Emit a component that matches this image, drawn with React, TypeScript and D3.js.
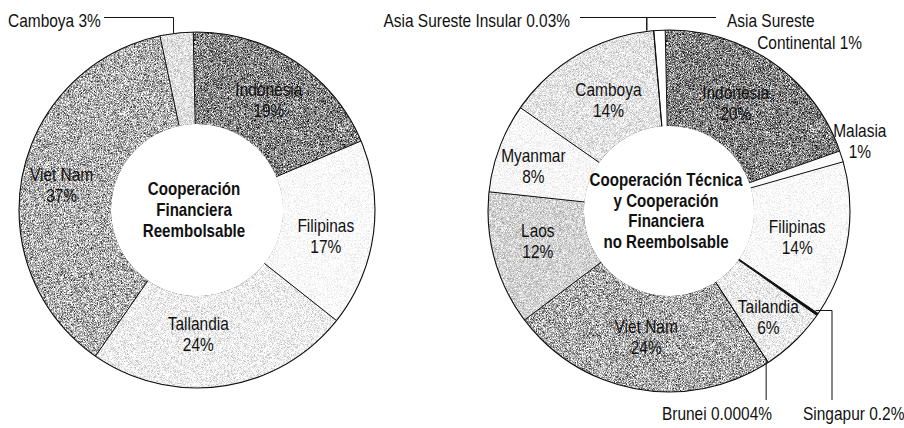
import React from 'react';
import * as d3 from 'd3';

// left donut: Cooperación Financiera Reembolsable
const leftNames = ['Indonesia', 'Filipinas', 'Tallandia', 'Viet Nam', 'Camboya'];
const leftShares = [19, 17, 24, 37, 3];
const leftPct = ['19%', '17%', '24%', '37%', '3%'];

// right donut: Cooperación Técnica y Cooperación Financiera no Reembolsable
const rightNames = [
  'Indonesia', 'Malasia', 'Filipinas', 'Singapur', 'Tailandia', 'Brunei',
  'Viet Nam', 'Laos', 'Myanmar', 'Camboya', 'Asia Sureste Insular', 'Asia Sureste Continental',
];
const rightShares = [20, 1, 14, 0.2, 6, 0.0004, 24, 12, 8, 14, 0.03, 1];
const rightPct = ['20%', '1%', '14%', '0.2%', '6%', '0.0004%', '24%', '12%', '8%', '14%', '0.03%', '1%'];

const leftTitle = ['Cooperación', 'Financiera', 'Reembolsable'];
const rightTitle = ['Cooperación Técnica', 'y Cooperación', 'Financiera', 'no Reembolsable'];

const FONT = "'Liberation Sans', Arial, sans-serif";

// fills + halftone grain per slice
const leftFill = ['#888888', '#fafafa', '#efefef', '#b2b2b2', '#e0e0e0'];
const leftGrain = ['dark', 'faint', 'light', 'dark', 'light'];
const rightFill = ['#848484', '#fafafa', '#fafafa', '#111', '#eeeeee', '#111', '#aeaeae', '#d2d2d2', '#f7f7f7', '#e4e4e4', '#111', '#ffffff'];
const rightGrain = ['dark', 'none', 'faint', 'none', 'light', 'none', 'dark', 'light', 'faint', 'light', 'none', 'none'];

// label nudges from the arc centroid (null = labelled outside the ring)
const leftNudge: ([number, number] | null)[] = [[0, 0], [-2, 7], [-18, -8], [-6, 0], null];
const rightNudge: ([number, number] | null)[] = [
  [-9, 0], [64, -31], [-3, 3], null, [7, 9], null, [0, -6], [-3, -6], [-11, 0], [6, 3], null, null,
];

type Donut = {
  cx: number; cy: number; r0: number; r1: number;
  names: string[]; shares: number[]; pct: string[]; fill: string[]; grain: string[];
  nudge: ([number, number] | null)[]; title: string[];
};

const START = -0.021;

function useDonut(d: Donut) {
  const pie = d3.pie<number>().sort(null).value(v => v)
    .startAngle(START).endAngle(START + 2 * Math.PI);
  const arcs = pie(d.shares);
  const arc = d3.arc<d3.PieArcDatum<number>>().innerRadius(d.r0).outerRadius(d.r1);
  const polar = (a: number, r: number): [number, number] =>
    [d.cx + r * Math.sin(a), d.cy - r * Math.cos(a)];
  return { arcs, arc, polar };
}

// condensed text: Liberation Sans squeezed horizontally
const NText = ({ x, y, anchor = 'start', size = 18, bold = false, sx = 0.86, children }: any) => (
  <g transform={`translate(${x},${y}) scale(${sx},1)`}>
    <text textAnchor={anchor} fontSize={size} fontWeight={bold ? 'bold' : 'normal'} fontFamily={FONT} fill="#111">
      {children}
    </text>
  </g>
);

// mean-preserving grain, to hint at the printed halftone
const Grain = ({ id, amp, seed }: { id: string; amp: number; seed: number }) => (
  <filter id={id} x="0" y="0" width="1" height="1" colorInterpolationFilters="sRGB">
    <feTurbulence type="fractalNoise" baseFrequency="1.7" numOctaves={1} seed={seed} result="n" />
    <feColorMatrix in="n" type="matrix"
      values="1 0 0 0 0  1 0 0 0 0  1 0 0 0 0  0 0 0 0 0.5" result="g" />
    <feComposite in="SourceGraphic" in2="g" operator="arithmetic"
      k1={0} k2={1} k3={amp} k4={-amp * 0.25} result="mix" />
    <feComposite in="mix" in2="SourceGraphic" operator="in" />
  </filter>
);

const Ring = ({ d }: { d: Donut }) => {
  const { arcs, arc, polar } = useDonut(d);
  const pitch = 20.8;
  return (
    <g>
      <g transform={`translate(${d.cx},${d.cy})`}>
        {arcs.map((a, i) => (
          <path key={i} d={arc(a) as string} fill={d.fill[i]}
            filter={d.grain[i] === 'none' ? undefined : `url(#g-${d.grain[i]})`} />
        ))}
        <circle r={d.r1} fill="none" stroke="#111" strokeWidth={1.1} />
      </g>
      {arcs.map((a, i) => {
        const [x0, y0] = polar(a.startAngle, d.r0);
        const [x1, y1] = polar(a.startAngle, d.r1);
        return <line key={'b' + i} x1={x0} y1={y0} x2={x1} y2={y1} stroke="#111" strokeWidth={1} />;
      })}
      {arcs.map((a, i) => {
        const n = d.nudge[i];
        if (!n) return null;
        const [x, y] = polar((a.startAngle + a.endAngle) / 2, (d.r0 + d.r1) / 2);
        const bx = x + n[0];
        const by = y + n[1];
        return (
          <g key={'t' + i}>
            <NText x={bx} y={by - 3} anchor="middle">{d.names[i]}</NText>
            <NText x={bx} y={by + 18} anchor="middle">{d.pct[i]}</NText>
          </g>
        );
      })}
      {d.title.map((t, i) => (
        <NText key={'h' + i} x={d.cx - 3} y={d.cy - (d.title.length - 1) * pitch / 2 + i * pitch + 6}
          anchor="middle" size={18} bold sx={0.84}>{t}</NText>
      ))}
    </g>
  );
};

const left: Donut = {
  cx: 197, cy: 210, r0: 86, r1: 178,
  names: leftNames, shares: leftShares, pct: leftPct, fill: leftFill, grain: leftGrain,
  nudge: leftNudge, title: leftTitle,
};
const right: Donut = {
  cx: 669, cy: 211, r0: 85, r1: 181,
  names: rightNames, shares: rightShares, pct: rightPct, fill: rightFill, grain: rightGrain,
  nudge: rightNudge, title: rightTitle,
};

const Callouts = () => {
  const L = useDonut(left);
  const R = useDonut(right);
  const mid = (a: d3.PieArcDatum<number>) => (a.startAngle + a.endAngle) / 2;
  const ln = { fill: 'none', stroke: '#111', strokeWidth: 1 } as const;

  // left Camboya
  const [cbx, cby] = L.polar(mid(L.arcs[4]), left.r1);
  // right top small slices
  const [insx, insy] = R.polar(mid(R.arcs[10]), right.r1);
  const [conx, cony] = R.polar(R.arcs[11].startAngle, right.r1);
  // right bottom
  const [brx, bry] = R.polar(mid(R.arcs[5]), right.r1);
  const [sgx, sgy] = R.polar(mid(R.arcs[3]), right.r1);

  return (
    <g>
      <NText x={8} y={27}>{leftNames[4]} {leftPct[4]}</NText>
      <path d={`M104,17.5H${cbx - 3}V${cby}`} {...ln} />

      <NText x={570} y={27} anchor="end">{rightNames[10]} {rightPct[10]}</NText>
      <path d={`M580,17.5H${insx - 7}V${insy}`} {...ln} />
      <NText x={727} y={27}>Asia Sureste</NText>
      <NText x={862} y={49} anchor="end">Continental {rightPct[11]}</NText>
      <path d={`M716,17.5H${conx - 7}V${cony}`} {...ln} />

      <NText x={772} y={420} anchor="end">{rightNames[5]} {rightPct[5]}</NText>
      <path d={`M${brx - 2},${bry - 4}V400`} {...ln} />
      <NText x={803} y={420}>{rightNames[3]} {rightPct[3]}</NText>
      <path d={`M${sgx - 2},${sgy - 4}H832V400`} {...ln} />
    </g>
  );
};

export default function App() {
  return (
    <svg width={904} height={428} style={{ position: 'absolute', left: 0, top: 0, background: '#fff' }}>
      <defs>
        <Grain id="g-dark" amp={4} seed={3} />
        <Grain id="g-light" amp={1.6} seed={5} />
        <Grain id="g-faint" amp={0.8} seed={7} />
      </defs>
      <rect width={904} height={428} fill="#fff" />
      <Ring d={left} />
      <Ring d={right} />
      <Callouts />
    </svg>
  );
}
